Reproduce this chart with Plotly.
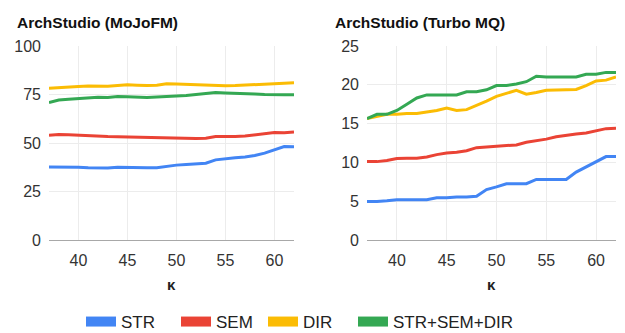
import plotly.graph_objects as go

K = list(range(37, 63))

mojo_str = [37.6, 37.6, 37.6, 37.5, 37.2, 37.1, 37.1, 37.5, 37.3, 37.2, 37.2, 37.3, 38.0,
            38.6, 38.9, 39.1, 39.6, 41.3, 42.0, 42.4, 42.8, 43.6, 44.8, 46.6, 48.2, 48.1]
mojo_sem = [54.0, 54.4, 54.2, 53.9, 53.7, 53.5, 53.3, 53.2, 53.1, 53.0, 52.8, 52.7, 52.5,
            52.4, 52.4, 52.3, 52.5, 53.3, 53.4, 53.3, 53.6, 54.2, 54.8, 55.4, 55.3, 55.7]
mojo_dir = [78.2, 78.4, 78.6, 79.1, 79.4, 79.4, 79.2, 79.6, 80.0, 79.8, 79.6, 79.8, 80.5,
            80.4, 80.2, 80.0, 79.8, 79.6, 79.5, 79.6, 79.9, 80.2, 80.4, 80.7, 80.8, 81.0]
mojo_all = [70.9, 72.2, 72.6, 73.0, 73.3, 73.6, 73.4, 74.0, 73.8, 73.6, 73.4, 73.7, 73.9,
            74.2, 74.5, 75.0, 75.6, 76.0, 75.8, 75.5, 75.3, 75.2, 75.0, 74.8, 74.9, 74.9]

tmq_str = [4.95, 4.95, 5.05, 5.2, 5.2, 5.2, 5.2, 5.45, 5.45, 5.55, 5.55, 5.65, 6.5,
           6.85, 7.25, 7.25, 7.25, 7.8, 7.8, 7.8, 7.8, 8.75, 9.4, 10.05, 10.75, 10.75]
tmq_sem = [10.1, 10.1, 10.25, 10.5, 10.55, 10.55, 10.7, 11.0, 11.2, 11.3, 11.5, 11.9, 12.0,
           12.1, 12.2, 12.25, 12.6, 12.8, 13.0, 13.3, 13.5, 13.65, 13.8, 14.1, 14.35, 14.4]
tmq_dir = [15.65, 15.9, 16.2, 16.2, 16.3, 16.3, 16.5, 16.7, 17.0, 16.7, 16.8, 17.3, 17.9,
           18.5, 18.9, 19.3, 18.8, 19.0, 19.3, 19.35, 19.35, 19.4, 19.9, 20.5, 20.6, 21.0]
tmq_all = [15.65, 16.2, 16.2, 16.7, 17.5, 18.3, 18.7, 18.7, 18.7, 18.7, 19.1, 19.1, 19.35,
           19.9, 19.9, 20.1, 20.4, 21.1, 21.0, 21.0, 21.0, 21.0, 21.35, 21.35, 21.6, 21.6]

series_names = ["STR", "SEM", "DIR", "STR+SEM+DIR"]
colors = ["#4285F4", "#EA4335", "#FBBC04", "#34A853"]
mojo = [mojo_str, mojo_sem, mojo_dir, mojo_all]
tmq = [tmq_str, tmq_sem, tmq_dir, tmq_all]

x_ticks = [40, 45, 50, 55, 60]
mojo_ticks = [0, 25, 50, 75, 100]
tmq_ticks = [0, 5, 10, 15, 20, 25]

FONT = "Liberation Sans, Arial, sans-serif"
W, H, OFF = 625, 333, 8  # page body margin offset


def px(x):
    return (x - OFF) / W


def py(y):
    return (H - (y - OFF)) / H


fig = go.Figure()
for name, col, ys in zip(series_names, colors, mojo):
    fig.add_trace(go.Scatter(x=K, y=ys, mode="lines", line=dict(color=col, width=3),
                             showlegend=False, xaxis="x", yaxis="y"))
for name, col, ys in zip(series_names, colors, tmq):
    fig.add_trace(go.Scatter(x=K, y=ys, mode="lines", line=dict(color=col, width=3),
                             showlegend=False, xaxis="x2", yaxis="y2"))

# legend entries, each in its own legend box
legend_ids = ["legend", "legend2", "legend3", "legend4"]
legend_text_x = [121, 216, 303, 393]
for name, col, lid in zip(series_names, colors, legend_ids):
    fig.add_trace(go.Scatter(x=[None], y=[None], mode="lines", name=name,
                             line=dict(color=col, width=11), xaxis="x", yaxis="y",
                             legend=lid))

grid = "#ececec"
common_x = dict(range=[37, 62], tickvals=x_ticks, showgrid=True, gridcolor=grid,
                zeroline=False, showline=True, linecolor="#a8a8a8", linewidth=1.3,
                ticks="", tickfont=dict(size=16, color="#333", family=FONT),
                ticklabelstandoff=6, automargin=False)
common_y = dict(showgrid=True, gridcolor=grid, zeroline=False, showline=False, ticks="",
                tickfont=dict(size=16, color="#333", family=FONT), ticklabelstandoff=7,
                automargin=False)

legend_layout = {}
for lid, tx in zip(legend_ids, legend_text_x):
    legend_layout[lid] = dict(orientation="h", x=px(tx - 40), xanchor="left", y=py(322),
                              yanchor="middle", font=dict(size=17, color="#222", family=FONT),
                              itemwidth=30, bgcolor="rgba(0,0,0,0)", borderwidth=0)

fig.update_layout(
    width=W, height=H,
    margin=dict(l=0, r=0, t=0, b=0, autoexpand=False),
    paper_bgcolor="white", plot_bgcolor="white",
    font=dict(family=FONT, color="#222"),
    xaxis=dict(domain=[px(49), px(294)], anchor="y", **common_x),
    yaxis=dict(domain=[py(240), py(46)], anchor="x", range=[0, 100], tickvals=mojo_ticks, **common_y),
    xaxis2=dict(domain=[px(367), px(616)], anchor="y2", **common_x),
    yaxis2=dict(domain=[py(240), py(46)], anchor="x2", range=[0, 25], tickvals=tmq_ticks, **common_y),
    showlegend=True,
    annotations=[
        dict(text="<b>ArchStudio (MoJoFM)</b>", x=px(15), y=py(23), xref="paper", yref="paper",
             xanchor="left", yanchor="middle", showarrow=False, font=dict(size=15.5, color="#111", family=FONT)),
        dict(text="<b>ArchStudio (Turbo MQ)</b>", x=px(333), y=py(23), xref="paper", yref="paper",
             xanchor="left", yanchor="middle", showarrow=False, font=dict(size=15.5, color="#111", family=FONT)),
        dict(text="<b>κ</b>", x=px(171.5), y=py(284), xref="paper", yref="paper",
             xanchor="center", yanchor="middle", showarrow=False, font=dict(size=15, color="#222", family=FONT)),
        dict(text="<b>κ</b>", x=px(491.5), y=py(284), xref="paper", yref="paper",
             xanchor="center", yanchor="middle", showarrow=False, font=dict(size=15, color="#222", family=FONT)),
    ],
    **legend_layout,
)

fig.write_html("out.html")
